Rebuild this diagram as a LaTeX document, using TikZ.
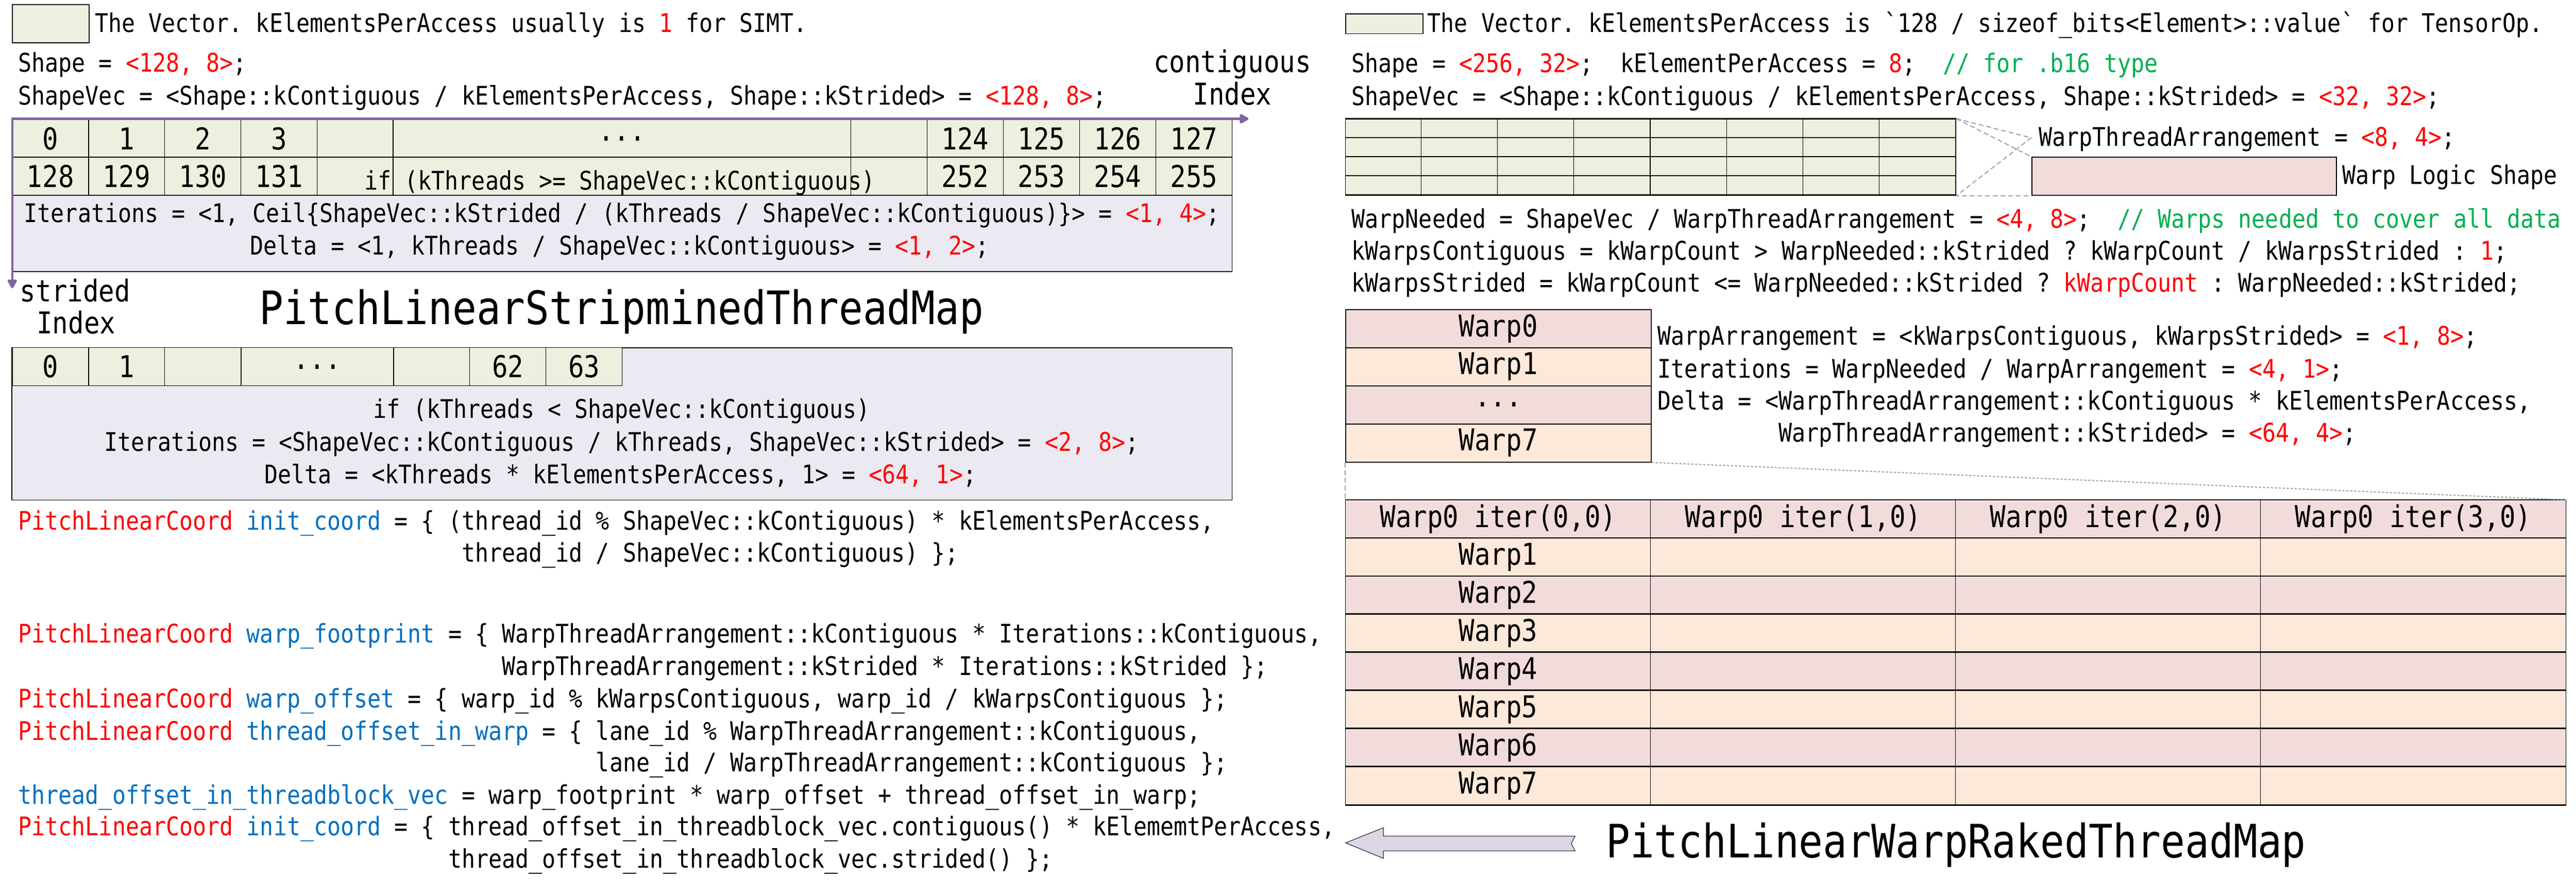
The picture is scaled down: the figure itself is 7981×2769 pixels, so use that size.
\documentclass[tikz,border=0pt]{standalone}
\usepackage{fontspec}
\setmonofont{DejaVu Sans Mono}[FakeStretch=0.87]
\usetikzlibrary{positioning,arrows.meta}
\definecolor{vecgreen}{HTML}{EBF1DE}
\definecolor{iterlav}{HTML}{EBE9F1}
\definecolor{warppink}{HTML}{F2DCDB}
\definecolor{warppeach}{HTML}{FDE9D9}
\definecolor{axispurple}{HTML}{8064A2}
\definecolor{zoomgray}{HTML}{A6A6A6}
\definecolor{kwblue}{HTML}{0070C0}
\definecolor{cmtgreen}{HTML}{00B050}
\definecolor{arrowlav}{HTML}{DCD6E6}
\newcommand\fnbody{\ttfamily\frenchspacing\fontsize{22.6}{28.45}\selectfont}
\newcommand\fnbig{\ttfamily\frenchspacing\fontsize{26.5}{32}\selectfont}
\newcommand\fntitle{\ttfamily\frenchspacing\fontsize{40.6}{48}\selectfont}
\newcommand\hlred[1]{\textcolor{red}{#1}}
\newcommand\hlblue[1]{\textcolor{kwblue}{#1}}
\newcommand\hlgreen[1]{\textcolor{cmtgreen}{#1}}
\begin{document}
\begin{tikzpicture}
  [x=0.01cm,y=-0.01cm,
   every node/.style={inner sep=0pt,font=\fnbody},
   txt/.style={anchor=base west},
   ctr/.style={anchor=base},
   bigtxt/.style={font=\fnbig},
   gcell/.style={draw,line width=0.7pt,fill=vecgreen,font=\fnbig,minimum width=2.362cm,minimum height=1.17cm},
   wcol/.style={draw,line width=0.9pt,font=\fnbig,minimum width=9.46cm,minimum height=1.18cm},
   tcell/.style={draw,line width=0.5pt,font=\fnbig,minimum width=9.45cm,minimum height=1.18cm},
   rowline/.style={line width=1.1pt},
   lavbox/.style={draw,line width=0.8pt,fill=iterlav},
   zoomline/.style={draw=zoomgray,line width=1pt,dash pattern=on 4.3pt off 2.5pt},
   dotline/.style={draw=zoomgray,line width=1pt,dash pattern=on 2pt off 1.5pt},
   idxaxis/.style={draw=axispurple,line width=2pt,>={Triangle[length=0.31cm,width=0.32cm,round]},<->}]
  \useasboundingbox (0,0) rectangle (7981,2769);
  \node[draw,line width=0.8pt,fill=vecgreen,minimum width=2.38cm,minimum height=1.18cm] (legL) at (157,74) {};
  \node[txt] (legLtxt) at (293,100) {The Vector. kElementsPerAccess usually is \hlred{1} for SIMT.};
  \node[txt] (shapeL) at (56,222) {Shape = \hlred{<128, 8>};};
  \node[txt] (shapevecL) at (56,325) {ShapeVec = <Shape::kContiguous / kElementsPerAccess, Shape::kStrided> = \hlred{<128, 8>};};
  \node[bigtxt,ctr] (contLbl) at (3818,225) {contiguous};
  \node[bigtxt,ctr] (contIdx) at (3818,325) {Index};
  \node[lavbox,minimum width=37.78cm,minimum height=4.70cm] (iterBox) at (1927,606) {};
  \foreach \i/\t in {0/0,1/1,2/2,3/3,4/{},11/{},12/124,13/125,14/126,15/127}
    \node[gcell] (top\i) at ({38+(\i+0.5)*236.2},429) {\t};
  \node[gcell,minimum width=14.172cm] (topWide) at (1927,429) {...};
  \foreach \i/\t in {0/128,1/129,2/130,3/131,4/{},11/{},12/252,13/253,14/254,15/255}
    \node[gcell,minimum height=1.18cm] (bot\i) at ({38+(\i+0.5)*236.2},546) {\t};
  \node[gcell,minimum width=14.172cm,minimum height=1.18cm] (botWide) at (1927,546) {};
  \node[ctr] (ifGe) at (1920,588) {if (kThreads >= ShapeVec::kContiguous)};
  \node[ctr] (iterL) at (1927,688) {Iterations = <1, Ceil\{ShapeVec::kStrided / (kThreads / ShapeVec::kContiguous)\}> = \hlred{<1, 4>};};
  \node[ctr] (deltaL) at (1920,789) {Delta = <1, kThreads / ShapeVec::kContiguous> = \hlred{<1, 2>};};
  \coordinate (org) at (38,368);
  \coordinate (contEnd) at (3868,368);
  \coordinate (strEnd) at (38,893);
  \draw[idxaxis] (contEnd) -- (org) -- (strEnd);
  \node[bigtxt,ctr] (strLbl) at (233,934) {strided};
  \node[bigtxt,ctr] (strIdx) at (236,1033) {Index};
  \node[ctr,font=\fntitle] (titleStrip) at (1926,1004) {PitchLinearStripminedThreadMap};
  \node[lavbox,minimum width=37.78cm,minimum height=4.72cm] (iterBox2) at (1927,1313) {};
  \foreach \i/\t in {0/0,1/1,2/{},5/{},6/62,7/63}
    \node[gcell,minimum height=1.18cm] (few\i) at ({38+(\i+0.5)*236.2},1136) {\t};
  \node[gcell,minimum width=4.724cm,minimum height=1.18cm] (fewWide) at (983,1136) {...};
  \node[ctr] (ifLt) at (1926,1295) {if (kThreads < ShapeVec::kContiguous)};
  \node[ctr] (iterL2) at (1926,1398) {Iterations = <ShapeVec::kContiguous / kThreads, ShapeVec::kStrided> = \hlred{<2, 8>};};
  \node[ctr] (deltaL2) at (1922,1498) {Delta = <kThreads * kElementsPerAccess, 1> = \hlred{<64, 1>};};
  \node[txt] (initA) at (56,1642) {\hlred{PitchLinearCoord} \hlblue{init\_coord} = \{ (thread\_id \% ShapeVec::kContiguous) * kElementsPerAccess,};
  \node[txt] (initB) at (56,1741) {\phantom{PitchLinearCoord init\_coord = \{ (}thread\_id / ShapeVec::kContiguous) \};};
  \node[txt] (footA) at (56,1992) {\hlred{PitchLinearCoord} \hlblue{warp\_footprint} = \{ WarpThreadArrangement::kContiguous * Iterations::kContiguous,};
  \node[txt] (footB) at (56,2091) {\phantom{PitchLinearCoord warp\_footprint = \{ }WarpThreadArrangement::kStrided * Iterations::kStrided \};};
  \node[txt] (offW) at (56,2192) {\hlred{PitchLinearCoord} \hlblue{warp\_offset} = \{ warp\_id \% kWarpsContiguous, warp\_id / kWarpsContiguous \};};
  \node[txt] (laneA) at (56,2293) {\hlred{PitchLinearCoord} \hlblue{thread\_offset\_in\_warp} = \{ lane\_id \% WarpThreadArrangement::kContiguous,};
  \node[txt] (laneB) at (56,2390) {\phantom{PitchLinearCoord thread\_offset\_in\_warp = \{ }lane\_id / WarpThreadArrangement::kContiguous \};};
  \node[txt] (tbVec) at (56,2491) {\hlblue{thread\_offset\_in\_threadblock\_vec} = warp\_footprint * warp\_offset + thread\_offset\_in\_warp;};
  \node[txt] (initC) at (56,2588) {\hlred{PitchLinearCoord} \hlblue{init\_coord} = \{ thread\_offset\_in\_threadblock\_vec.contiguous() * kElememtPerAccess,};
  \node[txt] (initD) at (56,2689) {\phantom{PitchLinearCoord init\_coord = \{ }thread\_offset\_in\_threadblock\_vec.strided() \};};
  \node[draw,line width=0.8pt,fill=vecgreen,minimum width=2.4cm,minimum height=0.61cm] (legR) at (4289,74) {};
  \node[txt] (legRtxt) at (4422,99) {The Vector. kElementsPerAccess is `128 / sizeof\_bits<Element>::value` for TensorOp.};
  \node[txt] (shapeR) at (4187,225) {Shape = \hlred{<256, 32>};~~kElementPerAccess = \hlred{8};~~\hlgreen{// for .b16 type}};
  \node[txt] (shapevecR) at (4187,326) {ShapeVec = <Shape::kContiguous / kElementsPerAccess, Shape::kStrided> = \hlred{<32, 32>};};
  \node[draw,line width=0.8pt,fill=vecgreen,minimum width=18.9cm,minimum height=2.36cm] (warpGrid) at (5114,487) {};
  \foreach \i in {1,...,7}
    \draw[line width=0.5pt] ([xshift=\i*2.3625cm]warpGrid.north west) -- ([xshift=\i*2.3625cm]warpGrid.south west);
  \foreach \j in {0,...,4}
    \draw[rowline] ([yshift=-\j*0.59cm]warpGrid.north west) -- ([yshift=-\j*0.59cm]warpGrid.north east);
  \node[draw,line width=0.8pt,fill=warppink,minimum width=9.43cm,minimum height=1.18cm] (logicShape) at (6767,546) {};
  \coordinate (apex) at (6293,427);
  \draw[zoomline] (warpGrid.north east) -- (apex) -- (warpGrid.south east) -- (logicShape.south west);
  \draw[zoomline] (warpGrid.north east) -- (logicShape.north west);
  \node[txt] (wta) at (6316,453) {WarpThreadArrangement = \hlred{<8, 4>};};
  \node[txt] (logicLbl) at (7256,571) {Warp Logic Shape};
  \node[txt] (needed) at (4187,706) {WarpNeeded = ShapeVec / WarpThreadArrangement = \hlred{<4, 8>};~~\hlgreen{// Warps needed to cover all data}};
  \node[txt] (wContig) at (4187,805) {kWarpsContiguous = kWarpCount > WarpNeeded::kStrided ? kWarpCount / kWarpsStrided : \hlred{1};};
  \node[txt] (wStrided) at (4187,904) {kWarpsStrided = kWarpCount <= WarpNeeded::kStrided ? \hlred{kWarpCount} : WarpNeeded::kStrided;};
  \node[wcol,fill=warppink] (wrow0) at (4642,1018) {Warp0};
  \node[wcol,fill=warppeach] (wrow1) at (4642,1136) {Warp1};
  \node[wcol,fill=warppink] (wrow2) at (4642,1254) {...};
  \node[wcol,fill=warppeach] (wrow3) at (4642,1372) {Warp7};
  \node[txt] (wArr) at (5135,1068) {WarpArrangement = <kWarpsContiguous, kWarpsStrided> = \hlred{<1, 8>};};
  \node[txt] (iterR) at (5135,1170) {Iterations = WarpNeeded / WarpArrangement = \hlred{<4, 1>};};
  \node[txt] (deltaRa) at (5135,1269) {Delta = <WarpThreadArrangement::kContiguous * kElementsPerAccess,};
  \node[txt] (deltaRb) at (5135,1369) {\phantom{Delta = <}WarpThreadArrangement::kStrided> = \hlred{<64, 4>};};
  \foreach \c in {0,...,3}
    \node[tcell,fill=warppink] (hd\c) at ({4641.5+\c*945},1608) {Warp0 iter(\c,0)};
  \foreach \r/\f in {1/warppeach,2/warppink,3/warppeach,4/warppink,5/warppeach,6/warppink,7/warppeach} {
    \node[tcell,fill=\f] (wr\r) at (4641.5,{1608+\r*118}) {Warp\r};
    \foreach \k in {1,2,3}
      \node[tcell,fill=\f] (wr\r-\k) at ({4641.5+\k*945},{1608+\r*118}) {};
  }
  \draw[rowline] (hd0.north west) -- (hd3.north east);
  \foreach \r in {1,...,7}
    \draw[rowline] (wr\r.north west) -- (wr\r-3.north east);
  \draw[rowline] (wr7.south west) -- (wr7-3.south east);
  \draw[dotline] (wrow3.south east) -- (hd3.north east);
  \draw[zoomline] (wrow3.south west) -- (hd0.north west);
  \draw[fill=arrowlav,draw=black!70,line width=0.7pt] (4169,2611) -- (4286,2564) -- (4286,2590) -- (4880,2590) -- (4868,2613) -- (4880,2636) -- (4286,2636) -- (4286,2659) -- cycle;
  \node[ctr,font=\fntitle] (titleRaked) at (6060,2657) {PitchLinearWarpRakedThreadMap};
\end{tikzpicture}
\end{document}
